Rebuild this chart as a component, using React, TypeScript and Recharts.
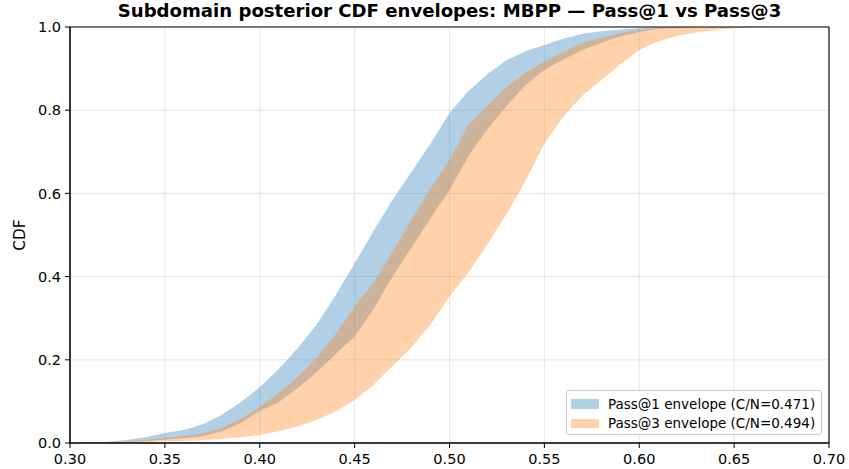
import { AreaChart, Area, XAxis, YAxis, CartesianGrid, ReferenceArea } from 'recharts';

// posterior CDF envelopes, sampled every 0.01 on the pass-rate axis
const passRate = [
  0.3, 0.31, 0.32, 0.33, 0.34, 0.35, 0.36, 0.37, 0.38, 0.39, 0.4, 0.41, 0.42, 0.43,
  0.44, 0.45, 0.46, 0.47, 0.48, 0.49, 0.5, 0.51, 0.52, 0.53, 0.54, 0.55, 0.56, 0.57,
  0.58, 0.59, 0.6, 0.61, 0.62, 0.63, 0.64, 0.65, 0.66, 0.67,
];
const pass1Lo = [
  0, 0, 0.001, 0.002, 0.005, 0.008, 0.012, 0.016, 0.028, 0.048, 0.077, 0.098, 0.132, 0.17,
  0.214, 0.256, 0.322, 0.4, 0.47, 0.54, 0.608, 0.69, 0.755, 0.81, 0.86, 0.897, 0.922, 0.945,
  0.962, 0.977, 0.988, 0.995, 0.998, 1, 1, 1, 1, 1,
];
const pass1Hi = [
  0, 0.001, 0.003, 0.007, 0.014, 0.024, 0.031, 0.045, 0.068, 0.098, 0.134, 0.178, 0.228, 0.285,
  0.355, 0.432, 0.51, 0.585, 0.652, 0.72, 0.793, 0.846, 0.887, 0.92, 0.942, 0.957, 0.972, 0.984,
  0.99, 0.994, 0.997, 0.999, 1, 1, 1, 1, 1, 1,
];
const pass3Lo = [
  0, 0, 0, 0.001, 0.002, 0.004, 0.005, 0.007, 0.01, 0.014, 0.019, 0.028, 0.04, 0.055,
  0.076, 0.103, 0.14, 0.185, 0.23, 0.285, 0.352, 0.41, 0.478, 0.55, 0.63, 0.72, 0.785, 0.835,
  0.872, 0.91, 0.945, 0.966, 0.979, 0.987, 0.993, 0.997, 0.999, 1,
];
const pass3Hi = [
  0, 0, 0.001, 0.003, 0.007, 0.012, 0.017, 0.023, 0.036, 0.058, 0.086, 0.12, 0.158, 0.205,
  0.262, 0.328, 0.385, 0.46, 0.537, 0.612, 0.68, 0.765, 0.81, 0.855, 0.89, 0.917, 0.94, 0.962,
  0.974, 0.985, 0.993, 0.997, 0.999, 1, 1, 1, 1, 1,
];

const xTicks = [0.3, 0.35, 0.4, 0.45, 0.5, 0.55, 0.6, 0.65, 0.7];
const yTicks = [0, 0.2, 0.4, 0.6, 0.8, 1];
const seriesNames = ['Pass@1 envelope (C/N=0.471)', 'Pass@3 envelope (C/N=0.494)'];
const seriesColors = ['#1f77b4', '#ff7f0e'];
const titleText = 'Subdomain posterior CDF envelopes: MBPP \u2014 Pass@1 vs Pass@3';

const rows = passRate.map((x, i) => ({
  x,
  pass1: [pass1Lo[i], pass1Hi[i]],
  pass3: [pass3Lo[i], pass3Hi[i]],
}));

const FONT = '"DejaVu Sans", sans-serif';
const tickStyle = { fontSize: 14.5, fill: '#000', fontFamily: FONT };

const EnvelopeLegend = () => (
  <div
    style={{
      position: 'absolute',
      left: 566,
      top: 390,
      width: 256,
      height: 45,
      border: '1px solid #cccccc',
      borderRadius: 3,
      background: 'rgba(255,255,255,0.8)',
      fontFamily: FONT,
      fontSize: 13.5,
      color: '#000',
      boxSizing: 'border-box',
      paddingTop: 3,
    }}
  >
    {seriesNames.map((name, i) => (
      <div key={name} style={{ display: 'flex', alignItems: 'center', height: 19.5 }}>
        <span
          style={{
            display: 'inline-block',
            width: 28,
            height: 9.5,
            marginLeft: 4,
            marginRight: 9,
            background: seriesColors[i],
            opacity: 0.35,
          }}
        />
        <span style={{ whiteSpace: 'nowrap' }}>{name}</span>
      </div>
    ))}
  </div>
);

export default function App() {
  return (
    <div style={{ position: 'absolute', left: 0, top: 0, width: 849, height: 469, background: '#fff' }}>
      <div
        style={{
          position: 'absolute',
          left: 70,
          width: 759,
          top: 1,
          textAlign: 'center',
          fontFamily: FONT,
          fontWeight: 'bold',
          fontSize: 18.1,
          lineHeight: '20px',
          color: '#000',
          whiteSpace: 'nowrap',
        }}
      >
        {titleText}
      </div>
      <AreaChart width={849} height={469} data={rows} margin={{ top: 27, right: 20, bottom: 0, left: 0 }}>
        <CartesianGrid stroke="#b0b0b0" strokeOpacity={0.3} strokeWidth={1} />
        <XAxis
          dataKey="x"
          type="number"
          domain={[0.3, 0.7]}
          ticks={xTicks}
          tickFormatter={(v: number) => v.toFixed(2)}
          tick={tickStyle}
          tickSize={5}
          tickMargin={6}
          height={26}
          stroke="#000"
          interval={0}
        />
        <YAxis
          type="number"
          domain={[0, 1]}
          ticks={yTicks}
          tickFormatter={(v: number) => v.toFixed(1)}
          tick={tickStyle}
          tickSize={5}
          tickMargin={4}
          width={70}
          stroke="#000"
          interval={0}
          label={{
            value: 'CDF',
            angle: -90,
            position: 'insideLeft',
            offset: 20,
            style: { fontSize: 15.3, fill: '#000', fontFamily: FONT, textAnchor: 'middle' },
          }}
        />
        <Area
          type="linear"
          dataKey="pass1"
          stroke="none"
          fill={seriesColors[0]}
          fillOpacity={0.35}
          isAnimationActive={false}
          dot={false}
          activeDot={false}
        />
        <Area
          type="linear"
          dataKey="pass3"
          stroke="none"
          fill={seriesColors[1]}
          fillOpacity={0.35}
          isAnimationActive={false}
          dot={false}
          activeDot={false}
        />
        <ReferenceArea x1={0.3} x2={0.7} y1={0} y2={1} fill="none" stroke="#000" strokeWidth={1.1} ifOverflow="visible" />
      </AreaChart>
      <EnvelopeLegend />
    </div>
  );
}
